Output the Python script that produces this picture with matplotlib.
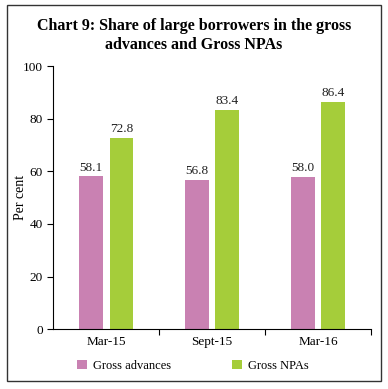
import numpy as np
import matplotlib.pyplot as plt
from matplotlib.patches import Rectangle
from matplotlib.ticker import FixedLocator

plt.rcParams['font.family'] = 'Liberation Serif'

periods = ['Mar-15', 'Sept-15', 'Mar-16']
gross_advances = [58.1, 56.8, 58.0]
gross_npas = [72.8, 83.4, 86.4]

pink = '#C981B2'
green = '#A5CD3A'

fig = plt.figure(figsize=(3.88, 3.89), dpi=100)
ax = fig.add_axes([0.137, 0.154, 0.819, 0.676])

x = np.arange(len(periods))
w = 0.225
off = 0.145
b1 = ax.bar(x - off, gross_advances, w, color=pink, label='Gross advances')
b2 = ax.bar(x + off, gross_npas, w, color=green, label='Gross NPAs')

for bars, vals in [(b1, gross_advances), (b2, gross_npas)]:
    for bar, v in zip(bars, vals):
        ax.text(bar.get_x() + bar.get_width() / 2, v + 1.0, f'{v:.1f}',
                ha='center', va='bottom', fontsize=9.5, color='#222222')

ax.set_xlim(-0.5, 2.5)
ax.set_ylim(0, 100)
ax.set_yticks([0, 20, 40, 60, 80, 100])
ax.set_ylabel('Per cent', fontsize=10)
ax.yaxis.set_label_coords(-0.082, 0.5)

# ticks at category boundaries, labels at centres
ax.xaxis.set_major_locator(FixedLocator([0.5, 1.5, 2.5]))
ax.xaxis.set_major_formatter(plt.NullFormatter())
ax.xaxis.set_minor_locator(FixedLocator(x))
ax.set_xticklabels(periods, minor=True)
ax.tick_params(axis='x', which='minor', length=0, labelsize=9.5, pad=5)
ax.tick_params(axis='x', which='major', length=4, direction='out')
ax.tick_params(axis='y', labelsize=9.5, length=4)

ax.spines['top'].set_visible(False)
ax.spines['right'].set_visible(False)

fig.text(0.5, 0.909, 'Chart 9: Share of large borrowers in the gross\nadvances and Gross NPAs',
         ha='center', va='center', fontsize=11.5, fontweight='bold', linespacing=1.2)

fig.legend(handles=[b1, b2], loc='center', bbox_to_anchor=(0.497, 0.06), ncol=2,
           frameon=False, fontsize=9, handlelength=0.8, handleheight=0.8,
           columnspacing=4.8, handletextpad=0.48)

fig.patches.append(Rectangle((7 / 388, 1 - 381 / 389), 374 / 388, 376 / 389,
                             transform=fig.transFigure, fill=False,
                             edgecolor='#333333', linewidth=1))

fig.savefig('out.png', dpi=100)
